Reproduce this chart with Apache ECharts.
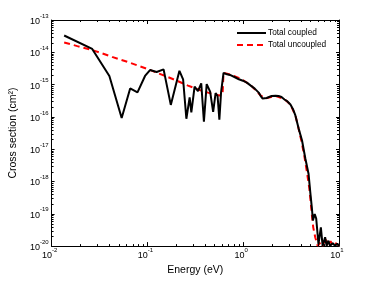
<!DOCTYPE html>
<html>
<head>
<meta charset="utf-8">
<script src="https://cdn.jsdelivr.net/npm/echarts@6/dist/echarts.min.js"></script>
<style>
html,body{margin:0;padding:0;background:#fff;}
#c{width:374px;height:281px;}
</style>
</head>
<body>
<div id="c"></div>
<script>
// ---- data ----
const coupledE = [
  0.01353,0.02655,0.0401,0.0539,0.0661,0.0788,0.0945,0.1065,0.1249,0.1476,
  0.1755,0.2160,0.2359,0.2552,0.2761,0.2875,0.3110,0.3372,0.3648,0.3890,
  0.4158,0.4519,0.4857,0.5152,0.5403,0.5639,0.5872,0.6234,0.6776,0.7108,
  0.7454,0.7816,0.8197,0.8599,0.9018,0.9458,0.992,1.040,1.091,1.144,
  1.200,1.259,1.320,1.384,1.452,1.523,1.597,1.675,1.757,1.843,
  1.979,2.177,2.338,2.512,2.698,2.897,3.112,3.302,3.505,3.792,
  4.113,4.448,4.813,5.010,5.217,5.343,5.577,5.781,6.107,6.466,
  6.750,7.163,7.424,7.749,8.070,8.604,9.09,9.60,10.0
];
const coupledS = [
  3.31e-14,1.27e-14,1.85e-15,9.2e-17,7.6e-16,5.74e-16,1.85e-15,2.82e-15,2.45e-15,2.96e-15,
  2.35e-16,2.67e-15,1.46e-15,8.77e-17,4.04e-16,1.38e-16,8.64e-16,6.29e-16,1.10e-15,7.10e-17,
  1.03e-15,6.08e-16,1.44e-16,5.47e-16,4.43e-16,8.17e-17,5.66e-16,2.31e-15,2.08e-15,2.23e-15,
  1.94e-15,2.01e-15,1.69e-15,1.75e-15,1.46e-15,1.52e-15,1.32e-15,1.36e-15,1.15e-15,1.10e-15,
  9.27e-16,8.34e-16,7.50e-16,6.52e-16,5.66e-16,4.43e-16,3.71e-16,3.63e-16,3.85e-16,4.12e-16,
  4.43e-16,4.49e-16,4.43e-16,4.12e-16,3.46e-16,3.01e-16,2.43e-16,1.77e-16,1.11e-16,4.34e-17,
  1.86e-17,5.25e-18,1.70e-18,4.79e-19,1.45e-19,6.22e-20,9.83e-20,7.16e-20,1.15e-20,3.80e-20,
  1.02e-20,1.88e-20,1.02e-20,1.47e-20,1.02e-20,1.23e-20,1.02e-20,1.19e-20,1.02e-20
];
const uncoupledE = [
  0.01353,0.01858,0.02765,0.04276,0.0661,0.0984,0.1522,0.2094,0.2657,0.3648,
  0.4629,0.5667,0.6087,0.6234,0.7454,0.9458,1.200,1.523,1.716,2.177,
  2.698,3.112,3.505,3.765,4.045,4.343,4.610,4.893,5.073,5.217,
  5.383,5.647,5.992,6.434,6.750,7.249,7.603,8.166,8.666,9.309,
  10.0
];
const uncoupledS = [
  2.02e-14,1.55e-14,1.13e-14,7.24e-15,4.74e-15,3.11e-15,1.87e-15,1.27e-15,9.27e-16,6.52e-16,
  5.27e-16,4.58e-16,4.92e-16,2.31e-15,2.01e-15,1.52e-15,9.59e-16,4.58e-16,3.77e-16,4.49e-16,
  3.53e-16,2.43e-16,1.12e-16,4.66e-17,1.86e-17,6.25e-18,2.10e-18,6.35e-19,2.21e-19,8.85e-20,
  3.80e-20,1.88e-20,1.02e-20,1.32e-20,1.02e-20,1.75e-20,1.02e-20,1.42e-20,1.02e-20,1.23e-20,
  1.02e-20
];
const seriesNames = ['Total coupled', 'Total uncoupled'];
const xName = 'Energy (eV)';
const yName = 'Cross section (cm²)';
const xMin = 1e-2, xMax = 10;
const yMin = 1e-20, yMax = 1e-13;

// minor tick positions (2..9 within each decade)
const xMinor = [];
for (let e = -2; e < 1; e++) for (let k = 2; k <= 9; k++) xMinor.push(k * Math.pow(10, e));
const yMinor = [];
for (let e = -20; e < -13; e++) for (let k = 2; k <= 9; k++) yMinor.push(k * Math.pow(10, e));

const zip = (a, b) => a.map((v, i) => [v, b[i]]);
const FONT = '"Liberation Sans", Arial, Helvetica, sans-serif';

function powLabel(v) {
  const e = Math.round(Math.log10(v));
  return '{b|10}{s|' + e + '}';
}
const richLbl = {
  b: { fontSize: 9, fontFamily: FONT, color: '#000', lineHeight: 13, verticalAlign: 'bottom' },
  s: { fontSize: 6, fontFamily: FONT, color: '#000', lineHeight: 13, verticalAlign: 'top' }
};
const axisLineStyle = { color: '#000', width: 1 };

const chart = echarts.init(document.getElementById('c'), null, { renderer: 'canvas' });
chart.setOption({
  animation: false,
  backgroundColor: '#fff',
  grid: { left: 49, right: 35, top: 20, bottom: 32, containLabel: false },
  legend: {
    data: seriesNames, orient: 'vertical', left: 231, top: 24,
    itemWidth: 29, itemHeight: 10, itemGap: 4, itemStyle: { opacity: 0 },
    textStyle: { fontSize: 8.3, fontFamily: FONT, color: '#000', padding: [0, 0, 0, -3] }
  },
  xAxis: [{
    type: 'log', logBase: 10, min: xMin, max: xMax, position: 'bottom',
    name: xName, nameLocation: 'middle', nameGap: 16,
    nameTextStyle: { fontSize: 10.5, fontFamily: FONT, color: '#000' },
    axisLine: { show: true, lineStyle: axisLineStyle },
    axisTick: { show: true, inside: true, length: 4, lineStyle: { color: '#000' } },
    axisLabel: { formatter: powLabel, rich: richLbl, margin: 1, padding: [0, 4, 0, 0] },
    splitLine: { show: false }
  }, {
    type: 'log', logBase: 10, min: xMin, max: xMax, position: 'top',
    axisLine: { show: true, lineStyle: axisLineStyle },
    axisTick: { show: true, inside: true, length: 4, lineStyle: { color: '#000' } },
    axisLabel: { show: false }, splitLine: { show: false }
  }],
  yAxis: [{
    type: 'log', logBase: 10, min: yMin, max: yMax, position: 'left', splitNumber: 7,
    name: yName, nameLocation: 'middle', nameGap: 19, nameRotate: 90,
    nameTextStyle: { fontSize: 10.5, fontFamily: FONT, color: '#000' },
    axisLine: { show: true, lineStyle: axisLineStyle },
    axisTick: { show: true, inside: true, length: 3, lineStyle: { color: '#000' } },
    axisLabel: { formatter: powLabel, rich: richLbl, margin: 3, padding: [0, 0, 1, 0] },
    splitLine: { show: false }
  }, {
    type: 'log', logBase: 10, min: yMin, max: yMax, position: 'right', splitNumber: 7,
    axisLine: { show: true, lineStyle: axisLineStyle },
    axisTick: { show: true, inside: true, length: 3, lineStyle: { color: '#000' } },
    axisLabel: { show: false }, splitLine: { show: false }
  }],
  series: [{
    name: seriesNames[1], type: 'line', data: zip(uncoupledE, uncoupledS),
    symbol: 'none', z: 2, lineStyle: { color: '#ff0000', width: 2, type: [6, 4] }, itemStyle: { color: '#ff0000' }
  }, {
    name: seriesNames[0], type: 'line', data: zip(coupledE, coupledS),
    symbol: 'none', z: 3, lineStyle: { color: '#000', width: 2 }, itemStyle: { color: '#000' }
  }, {
    type: 'custom', silent: true, z: 4, data: xMinor.map(v => [v, 1e-16]),
    renderItem: function (params, api) {
      const v = api.value(0); const pb = api.coord([v, yMin]); const pt = api.coord([v, yMax]);
      const x = Math.round(pb[0]) + 0.5;
      return { type: 'group', children: [
        { type: 'line', shape: { x1: x, y1: pb[1], x2: x, y2: pb[1] - 2 }, style: { stroke: '#000', lineWidth: 1 } },
        { type: 'line', shape: { x1: x, y1: pt[1], x2: x, y2: pt[1] + 2 }, style: { stroke: '#000', lineWidth: 1 } }
      ]};
    }
  }, {
    type: 'custom', silent: true, z: 4, data: yMinor.map(v => [1, v]),
    renderItem: function (params, api) {
      const v = api.value(1); const pl = api.coord([xMin, v]); const pr = api.coord([xMax, v]);
      const y = Math.round(pl[1]) + 0.5;
      return { type: 'group', children: [
        { type: 'line', shape: { x1: pl[0], y1: y, x2: pl[0] + 2, y2: y }, style: { stroke: '#000', lineWidth: 1 } },
        { type: 'line', shape: { x1: pr[0], y1: y, x2: pr[0] - 2, y2: y }, style: { stroke: '#000', lineWidth: 1 } }
      ]};
    }
  }]
});
</script>
</body>
</html>
